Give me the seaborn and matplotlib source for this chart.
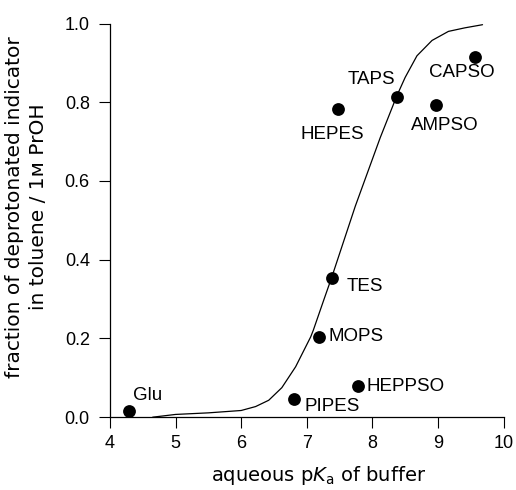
import matplotlib
matplotlib.use("Agg")
import matplotlib.pyplot as plt
import seaborn as sns
import pandas as pd

# Buffer data points
buffers = ["Glu", "PIPES", "MOPS", "TES", "HEPPSO", "HEPES", "TAPS", "AMPSO", "CAPSO"]
pka = [4.29, 6.80, 7.19, 7.38, 7.78, 7.48, 8.37, 8.97, 9.57]
fraction = [0.015, 0.045, 0.203, 0.354, 0.079, 0.782, 0.813, 0.793, 0.914]

# Fitted curve
curve_x = [4.65, 5.0, 5.5, 6.0, 6.22, 6.42, 6.62, 6.83, 7.06, 7.10, 7.26, 7.38,
           7.74, 8.12, 8.17, 8.37, 8.50, 8.68, 8.91, 9.16, 9.41, 9.68]
curve_y = [0.0, 0.007, 0.011, 0.017, 0.027, 0.043, 0.075, 0.128, 0.204, 0.221, 0.298, 0.355,
           0.536, 0.71, 0.731, 0.815, 0.863, 0.918, 0.957, 0.98, 0.989, 0.997]

x_ticks = [4, 5, 6, 7, 8, 9, 10]
y_ticks = [0.0, 0.2, 0.4, 0.6, 0.8, 1.0]

# label offsets (points) and alignment
label_style = {
    "Glu": ((3, 5), "left", "bottom"),
    "PIPES": ((8, 1), "left", "top"),
    "MOPS": ((7, 0.5), "left", "center"),
    "TES": ((11, -6.5), "left", "center"),
    "HEPPSO": ((6.5, 0), "left", "center"),
    "HEPES": ((-4, -18), "center", "center"),
    "TAPS": ((-18, 13), "center", "center"),
    "AMPSO": ((6.5, -15), "center", "center"),
    "CAPSO": ((-10, -11), "center", "center"),
}

sns.set_theme(style="ticks")
plt.rcParams["font.family"] = ["Liberation Sans", "DejaVu Sans"]
plt.rcParams["mathtext.fontset"] = "custom"
plt.rcParams["mathtext.rm"] = "DejaVu Sans"
plt.rcParams["mathtext.it"] = "DejaVu Sans:italic"

df_pts = pd.DataFrame({"pka": pka, "fraction": fraction, "buffer": buffers})
df_curve = pd.DataFrame({"x": curve_x, "y": curve_y})

fig = plt.figure(figsize=(5.16, 4.90), dpi=100)
ax = fig.add_axes([0.2132, 0.1486, 0.9758 - 0.2132, 0.952 - 0.1486])

sns.lineplot(data=df_curve, x="x", y="y", ax=ax, color="black", linewidth=0.9,
             sort=False, estimator=None)
sns.scatterplot(data=df_pts, x="pka", y="fraction", ax=ax, color="black",
                s=85, edgecolor="black", linewidth=0, zorder=3)

for b, xv, yv in zip(buffers, pka, fraction):
    (dx, dy), ha, va = label_style[b]
    ax.annotate(b, (xv, yv), xytext=(dx, dy), textcoords="offset points",
                ha=ha, va=va, fontsize=13.5, color="black")

ax.set_xlim(4, 10)
ax.set_ylim(0, 1.0)
ax.set_xticks(x_ticks)
ax.set_yticks(y_ticks)
ax.set_xticklabels([str(t) for t in x_ticks])
ax.set_yticklabels([f"{t:.1f}" for t in y_ticks])
ax.tick_params(axis="both", direction="out", length=8, width=0.8, labelsize=13,
               color="black", labelcolor="black")
ax.tick_params(axis="y", pad=6.5)
ax.tick_params(axis="x", pad=5)
for s in ["left", "bottom"]:
    ax.spines[s].set_color("black")
    ax.spines[s].set_linewidth(0.9)
sns.despine(ax=ax)

ax.set_xlabel(r"aqueous p$\mathit{K}_\mathrm{a}$ of buffer", fontsize=14,
              family="DejaVu Sans", color="black")
ax.xaxis.set_label_coords(0.529, -0.12)
ax.set_ylabel("fraction of deprotonated indicator\nin toluene / 1\u1d0d PrOH", fontsize=14.5,
              family="DejaVu Sans", color="black", linespacing=1.35)
ax.yaxis.set_label_coords(-0.158, 0.534)

fig.savefig("out.png", dpi=100, facecolor="white")
